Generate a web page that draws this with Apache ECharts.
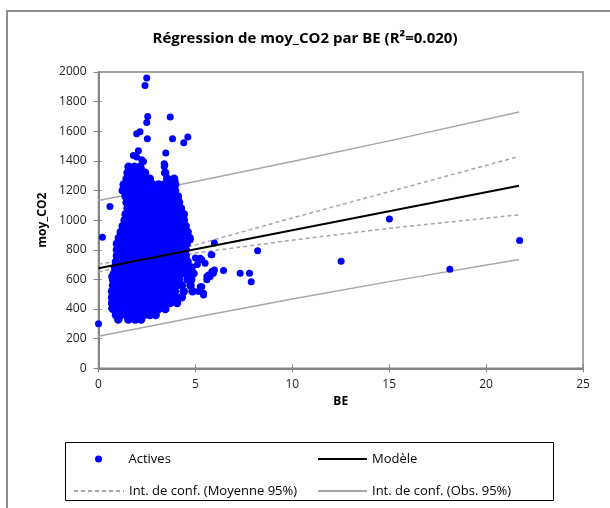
<!DOCTYPE html>
<html><head><meta charset="utf-8">
<script src="https://cdn.jsdelivr.net/npm/echarts@6/dist/echarts.min.js"></script>
<style>html,body{margin:0;padding:0;background:#fff}#c{width:610px;height:508px}</style>
</head><body><div id="c"></div>
<script>
const titleText = 'Régression de moy_CO2 par BE (R²=0.020)';
const xName = 'BE';
const yName = 'moy_CO2';
const seriesNames = ['Actives', 'Modèle', 'Int. de conf. (Moyenne 95%)', 'Int. de conf. (Obs. 95%)'];

// dense cluster, read row by row: [moy_CO2, [BE values]]
const activeRows = [
  [1360, [1.55, 1.85, 2.15]],
  [1320, [1.5, 1.8, 2.1, 2.4, 3.44]],
  [1280, [1.45, 1.75, 2.05, 2.35, 2.65, 3.55, 3.9]],
  [1240, [1.3, 1.6, 1.9, 2.2, 2.5, 2.8, 3.1, 3.4, 3.7, 3.95]],
  [1200, [1.25, 1.55, 1.85, 2.15, 2.45, 2.75, 3.05, 3.35, 3.65, 3.95]],
  [1160, [1.4, 1.7, 2.0, 2.3, 2.6, 2.9, 3.2, 3.5, 3.8, 4.1]],
  [1120, [1.45, 1.75, 2.05, 2.35, 2.65, 2.95, 3.25, 3.55, 3.85, 4.15]],
  [1080, [1.5, 1.8, 2.1, 2.4, 2.7, 3.0, 3.3, 3.6, 3.9, 4.25]],
  [1040, [1.4, 1.7, 2.0, 2.3, 2.6, 2.9, 3.2, 3.5, 3.8, 4.1, 4.4]],
  [1000, [1.35, 1.65, 1.95, 2.25, 2.55, 2.85, 3.15, 3.45, 3.75, 4.05, 4.4]],
  [960, [1.25, 1.55, 1.85, 2.15, 2.45, 2.75, 3.05, 3.35, 3.65, 3.95, 4.25, 4.5]],
  [920, [1.15, 1.4, 1.7, 2.0, 2.3, 2.6, 2.9, 3.2, 3.5, 3.8, 4.1, 4.4, 4.6]],
  [880, [1.05, 1.3, 1.6, 1.9, 2.2, 2.5, 2.8, 3.1, 3.4, 3.7, 4.0, 4.3, 4.7]],
  [840, [0.95, 1.2, 1.5, 1.8, 2.1, 2.4, 2.7, 3.0, 3.3, 3.6, 3.9, 4.2, 4.55]],
  [800, [0.95, 1.3, 1.6, 1.9, 2.2, 2.5, 2.8, 3.1, 3.4, 3.7, 4.0, 4.3, 4.5]],
  [760, [0.95, 1.2, 1.5, 1.8, 2.1, 2.4, 2.7, 3.0, 3.3, 3.6, 3.9, 4.2, 4.5]],
  [720, [0.9, 1.3, 1.6, 1.9, 2.2, 2.5, 2.8, 3.1, 3.4, 3.7, 4.0, 4.3, 4.6]],
  [680, [0.85, 1.15, 1.45, 1.75, 2.05, 2.35, 2.65, 2.95, 3.25, 3.55, 3.85, 4.15, 4.45, 4.8]],
  [640, [0.8, 1.0, 1.3, 1.6, 1.9, 2.2, 2.5, 2.8, 3.1, 3.4, 3.7, 4.0, 4.3, 4.6, 4.9]],
  [600, [0.75, 1.15, 1.45, 1.75, 2.05, 2.35, 2.65, 2.95, 3.25, 3.55, 3.85, 4.15, 4.6]],
  [560, [0.75, 1.0, 1.3, 1.6, 1.9, 2.2, 2.5, 2.8, 3.1, 3.4, 3.7, 4.0, 4.3, 4.75]],
  [520, [0.7, 0.95, 1.25, 1.55, 1.85, 2.15, 2.45, 2.75, 3.05, 3.35, 3.65, 3.95, 4.4, 4.85]],
  [480, [0.7, 1.0, 1.3, 1.6, 1.9, 2.2, 2.5, 2.8, 3.1, 3.4, 3.7, 4.0, 4.3]],
  [440, [0.7, 0.95, 1.25, 1.55, 1.85, 2.15, 2.45, 2.75, 3.05, 3.35, 3.7, 4.05]],
  [400, [0.75, 1.0, 1.3, 1.6, 1.9, 2.2, 2.5, 2.8, 3.1, 3.45]],
  [360, [0.9, 1.15, 1.45, 1.75, 2.05, 2.35, 2.65, 2.95]],
  [330, [1.02, 1.54, 1.9, 2.2]]
];

// individual points outside the dense core: [BE, moy_CO2]
const activeExtra = [
  [2.49, 1959], [2.40, 1909], [2.54, 1700], [2.49, 1659], [3.70, 1696],
  [1.97, 1583], [2.14, 1597], [2.52, 1549], [3.82, 1549], [4.61, 1561],
  [4.40, 1522], [3.47, 1453], [2.06, 1468], [1.80, 1436], [1.97, 1426],
  [2.23, 1407], [2.32, 1396], [3.39, 1380], [3.42, 1370], [2.20, 1351],
  [3.39, 1362], [1.63, 1261], [1.46, 1227], [3.95, 1261], [3.92, 1220],
  [0.59, 1092], [0.20, 885], [0.00, 300], [0.68, 619], [0.68, 473],
  [0.68, 405], [4.73, 867], [4.47, 788], [5.98, 845], [8.21, 793],
  [5.81, 766], [6.45, 660], [7.31, 642], [7.79, 642], [7.88, 585],
  [5.93, 642], [5.76, 619], [5.59, 597], [5.25, 551], [5.16, 518],
  [5.42, 495], [5.50, 709], [5.33, 732], [5.25, 743], [5.85, 766],
  [4.38, 518], [4.82, 597], [5.33, 551], [5.42, 507], [5.67, 630],
  [3.09, 428], [3.44, 461], [3.78, 518], [4.38, 511], [5.59, 619],
  [5.85, 653], [5.98, 664], [5.00, 745], [5.10, 700],
  [15.01, 1007], [21.73, 862], [12.52, 723], [18.13, 669]
];

const modelLine = [[0, 675], [21.7, 1232]];
const meanUpper = [[0, 703], [2.5, 752], [5, 833], [10, 1015], [15, 1192], [21.7, 1430]];
const meanLower = [[0, 650], [2.5, 725], [5, 778], [10, 865], [15, 945], [21.7, 1036]];
const obsUpper = [[0, 1133], [5, 1261], [10, 1396], [15, 1535], [21.7, 1730]];
const obsLower = [[0, 217], [5, 345], [10, 468], [15, 585], [21.7, 734]];

const FONT = 'Open Sans';
const AXIS_COLOR = '#868686';
const GRAY = '#a6a6a6';
const CORE_SIZE = 8.5;
const DOT_SIZE = 7;

const activePoints = [];
activeRows.forEach(r => r[1].forEach(x => activePoints.push({value: [x, r[0]], symbolSize: CORE_SIZE})));
activeExtra.forEach(p => activePoints.push({value: p, symbolSize: DOT_SIZE}));

const chart = echarts.init(document.getElementById('c'), null, {renderer: 'canvas'});
const lineSeries = (name, data, color, width, type, z) => ({
  name, type: 'line', data, symbol: 'none', showSymbol: false, silent: true,
  lineStyle: {color, width, type}, itemStyle: {color}, z, animation: false
});
const legendText = {fontFamily: FONT, fontSize: 13, color: '#000', lineHeight: 14};

chart.setOption({
  animation: false,
  backgroundColor: '#fff',
  textStyle: {fontFamily: FONT},
  title: {
    text: titleText, left: 'center', top: 26,
    textStyle: {fontFamily: FONT, fontSize: 15, fontWeight: 'bold', color: '#000'}
  },
  grid: {
    left: 98.5, right: 27, top: 72, bottom: 139.7,
    show: true, borderColor: AXIS_COLOR, borderWidth: 1.5, backgroundColor: '#fff'
  },
  xAxis: [{
    type: 'value', min: 0, max: 25, interval: 5,
    name: xName, nameLocation: 'middle', nameGap: 24,
    nameTextStyle: {fontFamily: FONT, fontSize: 12, fontWeight: 'bold', color: '#000'},
    axisLine: {show: true, lineStyle: {color: AXIS_COLOR, width: 2}},
    axisTick: {show: true, length: 4, lineStyle: {color: AXIS_COLOR, width: 1}},
    axisLabel: {fontFamily: FONT, fontSize: 12, color: '#222', margin: 10},
    splitLine: {show: false}
  }, {
    type: 'value', min: 0, max: 25, interval: 5, position: 'bottom',
    axisLine: {show: false},
    axisTick: {show: true, inside: true, length: 4, lineStyle: {color: AXIS_COLOR, width: 1}},
    axisLabel: {show: false}, splitLine: {show: false}
  }],
  yAxis: [{
    type: 'value', min: 0, max: 2000, interval: 200,
    name: yName, nameLocation: 'middle', nameGap: 48, nameRotate: 90,
    nameTextStyle: {fontFamily: FONT, fontSize: 12, fontWeight: 'bold', color: '#000'},
    axisLine: {show: true, lineStyle: {color: AXIS_COLOR, width: 2}},
    axisTick: {show: true, length: 5, lineStyle: {color: AXIS_COLOR, width: 1}},
    axisLabel: {fontFamily: FONT, fontSize: 12, color: '#222', margin: 12, formatter: v => String(v)},
    splitLine: {show: false}
  }, {
    type: 'value', min: 0, max: 2000, interval: 200, position: 'left',
    axisLine: {show: false},
    axisTick: {show: true, inside: true, length: 3, lineStyle: {color: AXIS_COLOR, width: 1}},
    axisLabel: {show: false}, splitLine: {show: false}
  }],
  legend: [
    {left: 90, top: 447, padding: 5, itemWidth: 50, itemHeight: 7, data: [{name: seriesNames[0], icon: 'circle'}],
     textStyle: legendText, selectedMode: false},
    {left: 317, top: 452, padding: 0, itemWidth: 49, itemHeight: 14, data: [seriesNames[1]],
     textStyle: legendText, selectedMode: false, itemStyle: {opacity: 0}},
    {left: 73, top: 484, padding: 0, itemWidth: 50, itemHeight: 14, data: [seriesNames[2]],
     textStyle: legendText, selectedMode: false, itemStyle: {opacity: 0}},
    {left: 317, top: 484, padding: 0, itemWidth: 49, itemHeight: 14, data: [seriesNames[3]],
     textStyle: legendText, selectedMode: false, itemStyle: {opacity: 0}}
  ],
  graphic: [
    {type: 'rect', silent: true, z: 100,
     shape: {x: 7, y: 11, width: 700, height: 600},
     style: {fill: 'none', stroke: '#8c8c8c', lineWidth: 2}},
    {type: 'rect', silent: true, z: 100,
     shape: {x: 65.5, y: 442.5, width: 488, height: 58},
     style: {fill: 'none', stroke: '#000', lineWidth: 1}}
  ],
  series: [
    lineSeries(seriesNames[3], obsUpper, GRAY, 1.5, 'solid', 2),
    lineSeries(seriesNames[3], obsLower, GRAY, 1.5, 'solid', 2),
    lineSeries(seriesNames[2], meanUpper, GRAY, 1.5, [4, 3], 2),
    lineSeries(seriesNames[2], meanLower, GRAY, 1.5, [4, 3], 2),
    {
      name: seriesNames[0], type: 'scatter', data: activePoints,
      symbol: 'circle', symbolSize: DOT_SIZE, itemStyle: {color: '#0000ff', opacity: 1},
      silent: true, z: 3, animation: false, large: false
    },
    lineSeries(seriesNames[1], modelLine, '#000', 2, 'solid', 4)
  ]
});
</script>
</body></html>
